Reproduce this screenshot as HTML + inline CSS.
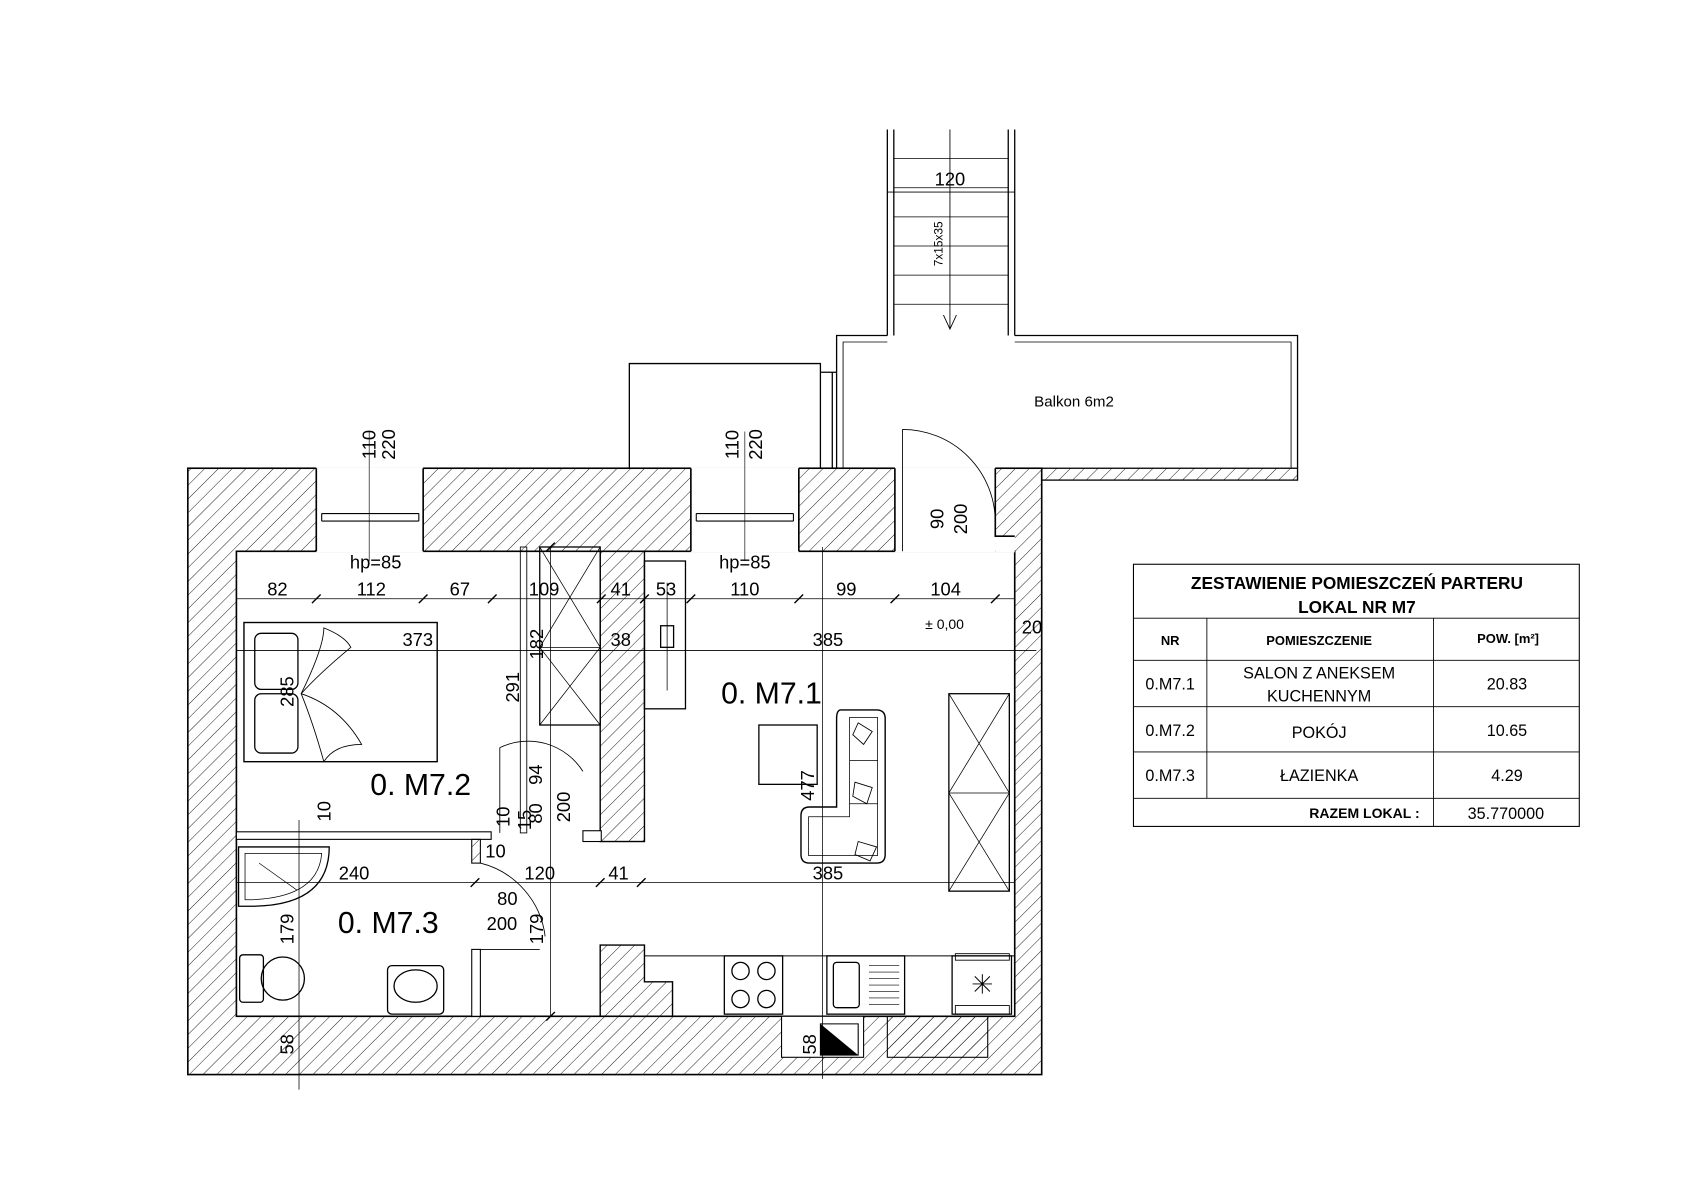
<!DOCTYPE html>
<html><head><meta charset="utf-8"><style>html,body{margin:0;padding:0;background:#fff}svg{display:block}text{font-family:"Liberation Sans",sans-serif;fill:#000}</style></head><body>
<svg width="1684" height="1190" viewBox="0 0 1560 1103" preserveAspectRatio="none" xmlns="http://www.w3.org/2000/svg">
<defs><pattern id="h" width="9" height="9" patternUnits="userSpaceOnUse" patternTransform="rotate(45)"><line x1="0" y1="0" x2="0" y2="9" stroke="#000" stroke-width="0.8"/></pattern></defs>
<rect width="1560" height="1103" fill="#fff"/>
<!-- outer walls -->
<rect x="174" y="434" width="791" height="562" fill="url(#h)" stroke="#000" stroke-width="1.5"/>
<rect x="219" y="511" width="721" height="431" fill="#fff" stroke="#000" stroke-width="1.5"/>
<rect x="293" y="433" width="99" height="79" fill="#fff"/>
<rect x="640" y="433" width="100" height="79" fill="#fff"/>
<rect x="829" y="433" width="93" height="79" fill="#fff"/>
<rect x="922" y="497" width="18" height="15" fill="#fff"/>
<g stroke="#000" stroke-width="1.5" fill="none">
<path d="M293 434V511M392 434V511M640 434V511M740 434V511M829 434V511M922 434V497H940"/>
<path d="M298 476H388M298 483H388M298 476V483M388 476V483M645 476H735M645 483H735M645 476V483M735 476V483" stroke-width="1"/>
</g>
<!-- balcony strip -->
<rect x="965" y="434" width="237" height="11" fill="url(#h)" stroke="#000" stroke-width="1.2"/>
<!-- bottom niches -->
<rect x="724" y="942" width="76" height="38" fill="#fff" stroke="#000"/>
<path d="M760 949H795V978H760Z" fill="#fff" stroke="#000"/><path d="M760 949L795 978H760Z" fill="#000"/>
<rect x="822" y="942" width="93" height="38" fill="url(#h)" stroke="#000"/>
<!-- interior walls -->
<rect x="556" y="511" width="41" height="269" fill="url(#h)" stroke="#000" stroke-width="1.3"/>
<rect x="540" y="770" width="17" height="10" fill="#fff" stroke="#000"/>
<rect x="219" y="771" width="236" height="7" fill="#fff" stroke="#000"/>
<rect x="437" y="778" width="8" height="22" fill="url(#h)" stroke="#000"/>
<rect x="437" y="880" width="8" height="62" fill="#fff" stroke="#000"/>
<path d="M556 942V876H597V910H623V942" fill="url(#h)" stroke="#000" stroke-width="1.3"/>
<!-- balcony -->
<g stroke="#000" stroke-width="1.2" fill="none">
<path d="M775 434V311H822M940 311H1202V434"/>
<path d="M781 434V317H822M940 317H1196V434" stroke-width="0.8"/>
<path d="M583 434V337H760V434M760 345H775M771 345V434"/>
<!-- stairs -->
<path d="M822 120V311M828 120V311M940 120V311M934 120V311"/>
<path d="M828 147H934M828 174H934M828 201H934M828 228H934M828 255H934M828 282H934" stroke-width="0.7"/>
<path d="M880 120V305M874 292L880 305L886 292" stroke-width="0.8"/>
<path d="M822 178H940" stroke-width="0.8"/>
<!-- balcony door -->
<path d="M836 511V398M836 398A86 86 0 0 1 922 484" stroke-width="0.8"/>
<!-- window dims -->
<path d="M342 400V520M690 400V520" stroke-width="0.6"/>
<!-- dim lines -->
<path d="M219 555H940M219 603H960M219 818H940M510 507V942M762 507V1000M277 760V1010" stroke-width="0.7"/>
<path d="M289 559L297 551M388 559L396 551M452 559L460 551M553 559L561 551M593 559L601 551M636 559L644 551M736 559L744 551M825 559L833 551M918 559L926 551M436 822L444 814M552 822L560 814M590 822L598 814M506 511L514 503M506 946L514 938" stroke-width="1.3"/>
<!-- bedroom wardrobe -->
<rect x="500" y="507" width="56" height="165"/><path d="M500 600H556M500 507L556 600M556 507L500 600M500 600L556 672M556 600L500 672" stroke-width="0.7"/>
<rect x="482" y="507" width="6" height="265" stroke-width="0.8"/>
<!-- living wardrobe -->
<rect x="879" y="643" width="56" height="183"/><path d="M879 735H935M879 643L935 735M935 643L879 735M879 735L935 826M935 735L879 826" stroke-width="0.7"/>
<!-- counter -->
<rect x="597" y="520" width="38" height="137"/><rect x="612" y="580" width="12" height="20"/><path d="M618 540V640" stroke-width="0.7"/>
<!-- table & sofa -->
<rect x="703" y="672" width="54" height="55"/>
<path d="M779 658H812Q820 658 820 666V792Q820 800 812 800H750Q742 800 742 792V756Q742 748 750 748H775V666Q775 658 779 658Z" stroke-width="1.3"/>
<path d="M787 665H813V793H749V757H787Z" stroke-width="0.7"/>
<path d="M787 705H813M787 745H813" stroke-width="0.7"/>
<path d="M795 670L808 678L800 690L790 681Z M792 725L808 730L803 745L790 738Z M795 780L812 785L806 798L792 792Z" stroke-width="0.8"/>
<!-- bed -->
<rect x="226" y="577" width="179" height="129" stroke-width="1.3"/>
<rect x="236" y="587" width="40" height="52" rx="6"/><rect x="236" y="643" width="40" height="55" rx="6"/>
<path d="M279 643Q300 600 300 582Q320 590 325 600Q295 625 279 643Q315 655 335 690Q310 690 300 706Q290 670 279 643" stroke-width="0.8"/>
<!-- bedroom door -->
<path d="M463 772V693M463 693A60 60 0 0 1 540 715" stroke-width="0.8"/>
<!-- bath -->
<path d="M221 785H305Q305 840 232 840H221Z" stroke-width="1.2"/><path d="M227 791H298Q295 832 232 834H227Z" stroke-width="0.7"/>
<path d="M240 800L275 825" stroke-width="0.6"/>
<path d="M445 800A80 80 0 0 1 505 868M445 880H500" stroke-width="0.8"/>
<rect x="222" y="885" width="22" height="44" rx="3"/><ellipse cx="262" cy="907" rx="20" ry="20"/>
<rect x="359" y="895" width="52" height="45" rx="4"/><ellipse cx="385" cy="914" rx="20" ry="15"/>
<!-- kitchen -->
<path d="M597 886H940" stroke-width="1"/>
<rect x="671" y="886" width="54" height="54"/><circle cx="686" cy="900" r="8"/><circle cx="710" cy="900" r="8"/><circle cx="686" cy="926" r="8"/><circle cx="710" cy="926" r="8"/>
<rect x="766" y="886" width="72" height="54"/><rect x="772" y="892" width="24" height="42" rx="3"/><path d="M805 895H833M805 901H833M805 907H833M805 913H833M805 919H833M805 925H833M805 931H833" stroke-width="0.6"/>
<rect x="882" y="886" width="55" height="54"/><path d="M885 884H935V890H885Z M885 932H935V940H885Z" stroke-width="0.8"/>
<path d="M910 903V921M901 912H919M903 905L917 919M917 905L903 919" stroke-width="0.9"/>
<!-- table -->
<rect x="1050" y="523" width="413" height="243" stroke-width="1"/>
<path d="M1050 573H1463M1050 612H1463M1050 655H1463M1050 697H1463M1050 740H1463M1118 573V740M1328 573V766" stroke-width="0.8"/>
</g>
<!-- texts -->
<g font-size="17">
<text x="880" y="172" text-anchor="middle">120</text>
<text transform="translate(873,226) rotate(-90)" font-size="11" text-anchor="middle">7x15x35</text>
<text x="958" y="377" font-size="14">Balkon 6m2</text>
<text transform="translate(348,412) rotate(-90)" text-anchor="middle">110</text>
<text transform="translate(366,412) rotate(-90)" text-anchor="middle">220</text>
<text transform="translate(684,412) rotate(-90)" text-anchor="middle">110</text>
<text transform="translate(706,412) rotate(-90)" text-anchor="middle">220</text>
<text transform="translate(874,481) rotate(-90)" text-anchor="middle">90</text>
<text transform="translate(896,481) rotate(-90)" text-anchor="middle">200</text>
<text x="348" y="527" text-anchor="middle">hp=85</text>
<text x="690" y="527" text-anchor="middle">hp=85</text>
<text x="257" y="552" text-anchor="middle">82</text><text x="344" y="552" text-anchor="middle">112</text><text x="426" y="552" text-anchor="middle">67</text><text x="504" y="552" text-anchor="middle">109</text><text x="575" y="552" text-anchor="middle">41</text><text x="617" y="552" text-anchor="middle">53</text><text x="690" y="552" text-anchor="middle">110</text><text x="784" y="552" text-anchor="middle">99</text><text x="876" y="552" text-anchor="middle">104</text>
<text x="875" y="583" text-anchor="middle" font-size="13">± 0,00</text>
<text x="956" y="587" text-anchor="middle">20</text>
<text x="387" y="599" text-anchor="middle">373</text><text x="575" y="599" text-anchor="middle">38</text><text x="767" y="599" text-anchor="middle">385</text>
<text transform="translate(503,597) rotate(-90)" text-anchor="middle">182</text>
<text transform="translate(481,637) rotate(-90)" text-anchor="middle">291</text>
<text transform="translate(272,641) rotate(-90)" text-anchor="middle">285</text>
<text transform="translate(754,728) rotate(-90)" text-anchor="middle">477</text>
<text transform="translate(502,718) rotate(-90)" text-anchor="middle">94</text>
<text transform="translate(502,754) rotate(-90)" text-anchor="middle">80</text>
<text transform="translate(528,748) rotate(-90)" text-anchor="middle">200</text>
<text transform="translate(472,757) rotate(-90)" text-anchor="middle">10</text>
<text transform="translate(492,760) rotate(-90)" text-anchor="middle">15</text>
<text transform="translate(306,752) rotate(-90)" text-anchor="middle">10</text>
<text x="459" y="795" text-anchor="middle">10</text>
<text x="328" y="815" text-anchor="middle">240</text><text x="500" y="815" text-anchor="middle">120</text><text x="573" y="815" text-anchor="middle">41</text><text x="767" y="815" text-anchor="middle">385</text>
<text x="470" y="839" text-anchor="middle">80</text><text x="465" y="862" text-anchor="middle">200</text>
<text transform="translate(503,861) rotate(-90)" text-anchor="middle">179</text>
<text transform="translate(272,861) rotate(-90)" text-anchor="middle">179</text>
<text transform="translate(272,968) rotate(-90)" text-anchor="middle">58</text>
<text transform="translate(756,968) rotate(-90)" text-anchor="middle">58</text>
</g>
<g font-size="28">
<text x="668" y="652">0. M7.1</text>
<text x="343" y="737">0. M7.2</text>
<text x="313" y="865">0. M7.3</text>
</g>
<g text-anchor="middle">
<text x="1257" y="546" font-size="16" font-weight="bold">ZESTAWIENIE POMIESZCZEŃ PARTERU</text>
<text x="1257" y="568" font-size="16" font-weight="bold">LOKAL NR M7</text>
<text x="1084" y="598" font-size="12" font-weight="bold">NR</text>
<text x="1222" y="598" font-size="12" font-weight="bold">POMIESZCZENIE</text>
<text x="1397" y="596" font-size="12" font-weight="bold">POW.  [m²]</text>
<text x="1084" y="639" font-size="15">0.M7.1</text>
<text x="1222" y="629" font-size="15">SALON Z ANEKSEM</text>
<text x="1222" y="650" font-size="15">KUCHENNYM</text>
<text x="1396" y="639" font-size="15">20.83</text>
<text x="1084" y="682" font-size="15">0.M7.2</text><text x="1222" y="684" font-size="15">POKÓJ</text><text x="1396" y="682" font-size="15">10.65</text>
<text x="1084" y="724" font-size="15">0.M7.3</text><text x="1222" y="724" font-size="15">ŁAZIENKA</text><text x="1396" y="724" font-size="15">4.29</text>
<text x="1264" y="758" font-size="13" font-weight="bold">RAZEM LOKAL :</text>
<text x="1395" y="759" font-size="15">35.770000</text>
</g>
</svg>
</body></html>
